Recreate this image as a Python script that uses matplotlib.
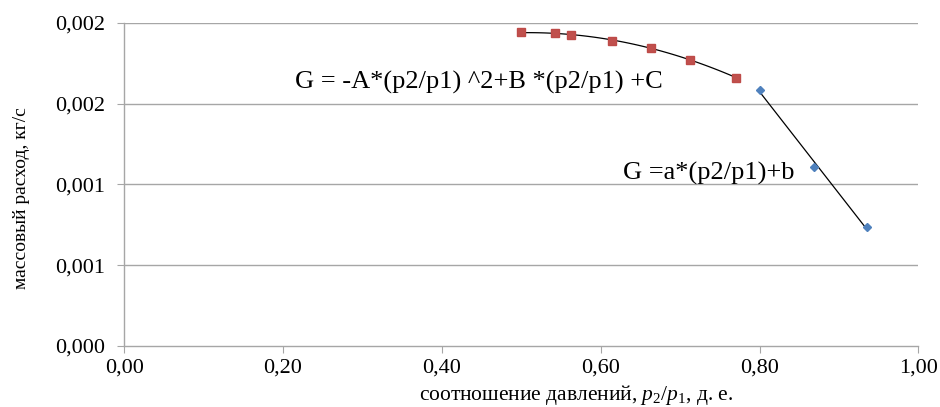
import numpy as np
import matplotlib
matplotlib.use("Agg")
import matplotlib.pyplot as plt

plt.rcParams['font.family'] = 'serif'
plt.rcParams['font.serif'] = ['Liberation Serif', 'DejaVu Serif']
plt.rcParams['mathtext.fontset'] = 'custom'
plt.rcParams['mathtext.rm'] = 'Liberation Serif'
plt.rcParams['mathtext.it'] = 'Liberation Serif:italic'

# data
x_quad = [0.500, 0.542, 0.563, 0.614, 0.663, 0.713, 0.771]
g_quad = [0.001940, 0.001936, 0.001924, 0.001890, 0.001847, 0.001771, 0.001658]
x_lin = [0.801, 0.869, 0.935]
g_lin = [0.001583, 0.001107, 0.000739]

xticks = [0.0, 0.2, 0.4, 0.6, 0.8, 1.0]
xtick_labels = ['0,00', '0,20', '0,40', '0,60', '0,80', '1,00']
yticks = [0.0, 0.0005, 0.001, 0.0015, 0.002]
ytick_labels = ['0,000', '0,001', '0,001', '0,002', '0,002']

fig = plt.figure(figsize=(9.4, 4.07), dpi=100)
ax = fig.add_axes([0.132, 0.150, 0.845, 0.794])

grid_col = '#a6a6a6'
for y in yticks[1:]:
    ax.axhline(y, color=grid_col, lw=1.0, zorder=1)

# trend lines
cq = np.polyfit(x_quad, g_quad, 2)
xs = np.linspace(x_quad[0], x_quad[-1], 100)
ax.plot(xs, np.polyval(cq, xs), color='black', lw=0.9, zorder=2)
cl = np.polyfit(x_lin, g_lin, 1)
xs2 = np.linspace(x_lin[0], x_lin[-1], 50)
ax.plot(xs2, np.polyval(cl, xs2), color='black', lw=0.9, zorder=2)

ax.plot(x_quad, g_quad, 's', color='#c0504d', ms=6, mec='#be4b48', zorder=3)
ax.plot(x_lin, g_lin, 'D', color='#4f81bd', ms=4.5, zorder=3)

ax.set_xlim(0, 1.0)
ax.set_ylim(0, 0.002)
ax.set_xticks(xticks)
ax.set_xticklabels(xtick_labels, fontsize=16)
ax.set_yticks(yticks)
ax.set_yticklabels(ytick_labels, fontsize=16)
ax.tick_params(axis='both', direction='out', length=5, color=grid_col)
ax.tick_params(axis='x', pad=4)
ax.tick_params(axis='y', pad=9)

for s in ['top', 'right']:
    ax.spines[s].set_visible(False)
for s in ['left', 'bottom']:
    ax.spines[s].set_color(grid_col)
    ax.spines[s].set_linewidth(1.0)

ax.set_xlabel('соотношение давлений, $p_2/p_1$, д. е.', fontsize=15.5)
ax.set_ylabel('массовый расход, кг/с', fontsize=14)
ax.xaxis.set_label_coords(0.569, -0.115)
ax.yaxis.set_label_coords(-0.118, 0.458)

ax.text(0.215, 0.00163, 'G = -A*(p2/p1) ^2+B *(p2/p1) +C', fontsize=19, va='center', ha='left')
ax.text(0.628, 0.00107, 'G =a*(p2/p1)+b', fontsize=19, va='center', ha='left')

fig.savefig('out.png', dpi=100)
